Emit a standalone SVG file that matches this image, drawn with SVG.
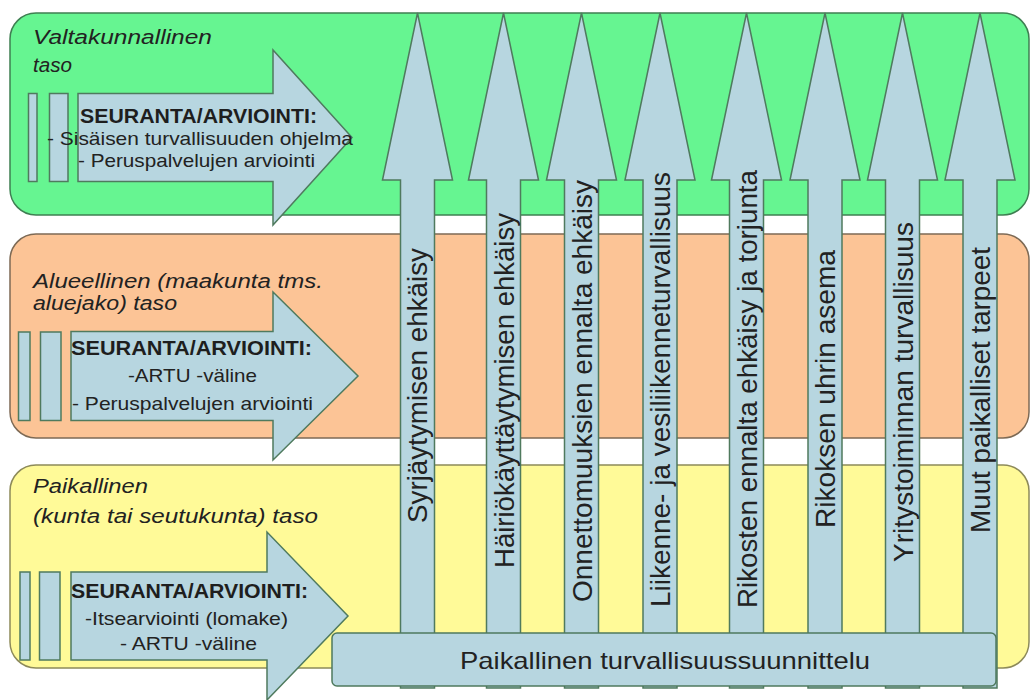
<svg xmlns="http://www.w3.org/2000/svg" width="1030" height="700" viewBox="0 0 1030 700">
<style>
.bg{fill:#ffffff}
.pg{fill:#66f591;stroke:#3f7f52;stroke-width:1.5}
.po{fill:#fcc496;stroke:#7d6a55;stroke-width:1.5}
.py{fill:#fffa98;stroke:#8d8a5a;stroke-width:1.5}
.blue{fill:#b7d6e0;stroke:#4f7a5e;stroke-width:1.5;stroke-linejoin:miter}
.ttl{font-family:"Liberation Sans",Arial,sans-serif;font-style:italic;font-size:20px;fill:#222}
.hd{font-family:"Liberation Sans",Arial,sans-serif;font-weight:bold;font-size:20px;fill:#1e1e1e}
.tx{font-family:"Liberation Sans",Arial,sans-serif;font-size:19px;fill:#222}
.vt{font-family:"Liberation Sans",Arial,sans-serif;font-size:27px;fill:#222}
.bt{font-family:"Liberation Sans",Arial,sans-serif;font-size:24px;fill:#222}
</style>
<rect class="bg" x="0" y="0" width="1030" height="700"/>

<g id="panel-valtakunnallinen">
  <rect class="pg" x="10" y="13" width="1019" height="202" rx="26" ry="26"/>
  <text class="ttl" x="33" y="44" textLength="179" lengthAdjust="spacingAndGlyphs">Valtakunnallinen</text>
  <text class="ttl" x="33" y="72" textLength="39" lengthAdjust="spacingAndGlyphs">taso</text>
</g>
<g id="panel-alueellinen">
  <rect class="po" x="10" y="234" width="1019" height="204" rx="26" ry="26"/>
  <text class="ttl" x="33" y="288" textLength="290" lengthAdjust="spacingAndGlyphs">Alueellinen (maakunta tms.</text>
  <text class="ttl" x="33" y="310" textLength="144" lengthAdjust="spacingAndGlyphs">aluejako) taso</text>
</g>
<g id="panel-paikallinen">
  <rect class="py" x="10" y="465" width="1019" height="203" rx="26" ry="26"/>
  <text class="ttl" x="33" y="493" textLength="115" lengthAdjust="spacingAndGlyphs">Paikallinen</text>
  <text class="ttl" x="33" y="523" textLength="285" lengthAdjust="spacingAndGlyphs">(kunta tai seutukunta) taso</text>
</g>

<g id="connectors">
  <path class="blue" d="M400.5,688 V180 H382.5 L417.5,13 L452.5,180 H434.5 V688 Z"/>
  <path class="blue" d="M486.5,688 V180 H468.5 L503.5,13 L538.5,180 H520.5 V688 Z"/>
  <path class="blue" d="M564.5,688 V180 H546.5 L581.5,13 L616.5,180 H598.5 V688 Z"/>
  <path class="blue" d="M643,688 V180 H625 L660,13 L695,180 H677 V688 Z"/>
  <path class="blue" d="M729.5,688 V180 H711.5 L746.5,13 L781.5,180 H763.5 V688 Z"/>
  <path class="blue" d="M808,688 V180 H790 L825,13 L860,180 H842 V688 Z"/>
  <path class="blue" d="M885.5,688 V180 H867.5 L902.5,13 L937.5,180 H919.5 V688 Z"/>
  <path class="blue" d="M963,688 V180 H945 L980,13 L1015,180 H997 V688 Z"/>
</g>

<g id="vertical-labels">
  <text class="vt" transform="translate(427,523) rotate(-90)" textLength="275" lengthAdjust="spacingAndGlyphs">Syrjäytymisen ehkäisy</text>
  <text class="vt" transform="translate(513.5,568) rotate(-90)" textLength="355" lengthAdjust="spacingAndGlyphs">Häiriökäyttäytymisen ehkäisy</text>
  <text class="vt" transform="translate(591.5,602) rotate(-90)" textLength="422" lengthAdjust="spacingAndGlyphs">Onnettomuuksien ennalta ehkäisy</text>
  <text class="vt" transform="translate(670,607) rotate(-90)" textLength="435" lengthAdjust="spacingAndGlyphs">Liikenne- ja vesiliikenneturvallisuus</text>
  <text class="vt" transform="translate(756.5,608) rotate(-90)" textLength="438" lengthAdjust="spacingAndGlyphs">Rikosten ennalta ehkäisy ja torjunta</text>
  <text class="vt" transform="translate(835,528) rotate(-90)" textLength="278" lengthAdjust="spacingAndGlyphs">Rikoksen uhrin asema</text>
  <text class="vt" transform="translate(912.5,562) rotate(-90)" textLength="340" lengthAdjust="spacingAndGlyphs">Yritystoiminnan turvallisuus</text>
  <text class="vt" transform="translate(990,533) rotate(-90)" textLength="286" lengthAdjust="spacingAndGlyphs">Muut paikalliset tarpeet</text>
</g>

<g id="arrow-valtakunnallinen">
  <rect class="blue" x="28.5" y="93.5" width="8.5" height="88"/>
  <rect class="blue" x="49.5" y="93.5" width="18.5" height="88"/>
  <path class="blue" d="M78,93.5 H273 V50 L352,137.5 L273,225 V181.5 H78 Z"/>
  <text class="hd" x="80" y="123" textLength="237" lengthAdjust="spacingAndGlyphs">SEURANTA/ARVIOINTI:</text>
  <text class="tx" x="47" y="145" textLength="306" lengthAdjust="spacingAndGlyphs">- Sisäisen turvallisuuden ohjelma</text>
  <text class="tx" x="78" y="167" textLength="237" lengthAdjust="spacingAndGlyphs">- Peruspalvelujen arviointi</text>
</g>
<g id="arrow-alueellinen">
  <rect class="blue" x="18.5" y="332" width="11.5" height="88.5"/>
  <rect class="blue" x="40.5" y="332" width="20.5" height="88.5"/>
  <path class="blue" d="M71,331.5 H273 V292 L358,376 L273,460 V420.5 H71 Z"/>
  <text class="hd" x="71" y="355" textLength="241" lengthAdjust="spacingAndGlyphs">SEURANTA/ARVIOINTI:</text>
  <text class="tx" x="128" y="382" textLength="129" lengthAdjust="spacingAndGlyphs">-ARTU -väline</text>
  <text class="tx" x="72" y="410" textLength="241" lengthAdjust="spacingAndGlyphs">- Peruspalvelujen arviointi</text>
</g>
<g id="arrow-paikallinen">
  <rect class="blue" x="20" y="572" width="10" height="88"/>
  <rect class="blue" x="39.5" y="572" width="20.5" height="88"/>
  <path class="blue" d="M71,572 H267 V532 L348,616 L267,700 V660 H71 Z"/>
  <text class="hd" x="71" y="598" textLength="237" lengthAdjust="spacingAndGlyphs">SEURANTA/ARVIOINTI:</text>
  <text class="tx" x="85" y="625" textLength="203" lengthAdjust="spacingAndGlyphs">-Itsearviointi (lomake)</text>
  <text class="tx" x="120" y="650" textLength="137" lengthAdjust="spacingAndGlyphs">- ARTU -väline</text>
</g>

<g id="node-paikallinen-turvallisuussuunnittelu">
  <rect class="blue" x="332" y="633" width="664" height="53" rx="5" ry="5"/>
  <text class="bt" x="460" y="669" textLength="410" lengthAdjust="spacingAndGlyphs">Paikallinen turvallisuussuunnittelu</text>
</g>
</svg>
